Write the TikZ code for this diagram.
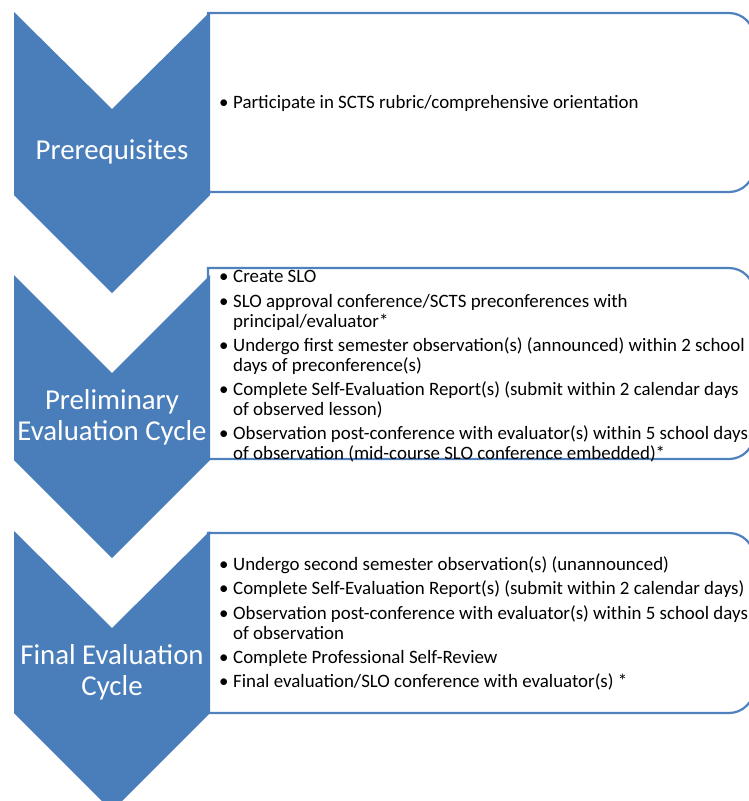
\documentclass[tikz,border=0pt]{standalone}
\usepackage{fontspec}
\setmainfont{Carlito}
\definecolor{chev}{HTML}{4A7EBB}
\definecolor{boxline}{HTML}{4F81BD}
\newcommand{\bl}{\makebox[14pt][l]{•}}
\newcommand{\ind}{\hspace*{14pt}}
\tikzset{
  chevshape/.style={fill=chev, draw=none},
  listbox/.style={draw=boxline, line width=2.2pt, fill=white},
  chevtext/.style={text=white, align=center, inner sep=0pt, font=\fontsize{28.8}{31}\selectfont},
  bodytext/.style={text=black, align=left, anchor=west, inner sep=0pt, font=\fontsize{18.9}{20}\selectfont}
}
\begin{document}
\begin{tikzpicture}[x=1pt,y=-1pt]
\useasboundingbox (0,0) rectangle (749,801);
\clip (0,0) rectangle (749,801);
\fill[white] (0,0) rectangle (749,801);

% boxes (right corners rounded)
\draw[listbox] (208,13) -- (729,13) arc[start angle=-90,end angle=0,radius=25] -- (754,167) arc[start angle=0,end angle=90,radius=25] -- (208,192) -- cycle;
\draw[listbox] (208,268) -- (729,268) arc[start angle=-90,end angle=0,radius=25] -- (754,434) arc[start angle=0,end angle=90,radius=25] -- (208,459) -- cycle;
\draw[listbox] (208,533) -- (729,533) arc[start angle=-90,end angle=0,radius=25] -- (754,688) arc[start angle=0,end angle=90,radius=25] -- (208,713) -- cycle;

% chevrons
\fill[chevshape] (14,12) -- (112,109) -- (210,12) -- (210,195) -- (112,293) -- (14,195) -- cycle;
\fill[chevshape] (14,275) -- (112,373) -- (210,275) -- (210,460) -- (112,558) -- (14,460) -- cycle;
\fill[chevshape] (14,531) -- (112,628) -- (210,531) -- (210,713) -- (112,811) -- (14,713) -- cycle;

\node[chevtext] (c1) at (112,152) {Prerequisites};
\node[chevtext] (c2) at (112,417) {Preliminary\\Evaluation Cycle};
\node[chevtext] (c3) at (112,672) {Final Evaluation\\Cycle};

\node[bodytext] (t1) at (219,103) {\bl Participate in SCTS rubric/comprehensive orientation};
\node[bodytext] (t2) at (219,366.5) {\bl Create SLO\\[4.3pt]
\bl SLO approval conference/SCTS preconferences with\\
\ind principal/evaluator*\\[4.3pt]
\bl Undergo first semester observation(s) (announced) within 2 school\\
\ind days of preconference(s)\\[4.3pt]
\bl Complete Self-Evaluation Report(s) (submit within 2 calendar days\\
\ind of observed lesson)\\[4.3pt]
\bl Observation post-conference with evaluator(s) within 5 school days\\
\ind of observation (mid-course SLO conference embedded)*};
\node[bodytext] (t3) at (219,623.5) {\bl Undergo second semester observation(s) (unannounced)\\[4.3pt]
\bl Complete Self-Evaluation Report(s) (submit within 2 calendar days)\\[4.3pt]
\bl Observation post-conference with evaluator(s) within 5 school days\\
\ind of observation\\[4.3pt]
\bl Complete Professional Self-Review\\[4.3pt]
\bl Final evaluation/SLO conference with evaluator(s) *};
\end{tikzpicture}
\end{document}
